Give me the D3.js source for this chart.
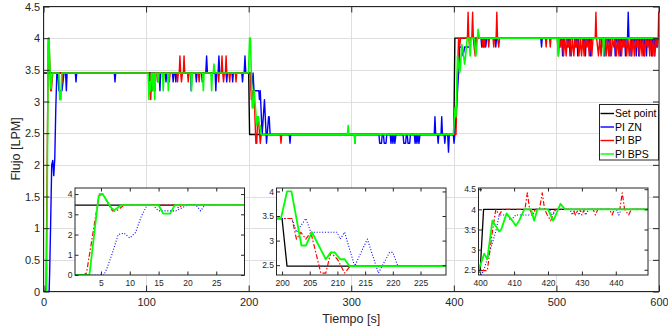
<!DOCTYPE html>
<html>
<head>
<meta charset="utf-8">
<script src="https://cdn.jsdelivr.net/npm/d3@7"></script>
<style>
  body { margin: 0; background: #fff; }
  svg { display: block; font-family: "Liberation Sans", Arial, Helvetica, sans-serif; }
  .tick text { fill: #262626; }
</style>
</head>
<body>
<svg id="chart" width="668" height="331"></svg>
<script>
// ---- data: [time s, flow LPM] vertices ----
var setPoint = [[0,3.45],[200,3.45],[200.9,2.48],[400,2.48],[401,4.0],[600,4.0]];

var piZN = [[0,0],[5.5,0],[6,0.3],[7,1.1],[8,2.0],[9,2.07],[10,1.83],[11,2.1],[12,2.9],[13,3.45],[14,3.45],[15,3.17],[18,3.17],[19,3.31],[20,3.45],[21.5,3.45],[22.3,3.17],[23,3.45],
  [31,3.45],[31.7,3.31],[32.4,3.45],[69,3.45],[69.7,3.31],[70.4,3.45],
  [103,3.45],[104,3.17],[105,3.45],[108,3.45],[108.7,3.17],[109.4,3.45],[112.8,3.45],[113.5,3.17],[114.2,3.45],[118.7,3.45],[119.4,3.31],[120.1,3.45],[125.7,3.45],[126.4,3.31],[127.1,3.45],[128.3,3.45],[129,3.31],[129.7,3.45],
  [143.3,3.45],[144,3.17],[144.7,3.45],[148.3,3.45],[149,3.31],[149.7,3.45],[154.1,3.45],[154.8,3.31],[155.5,3.45],[158.2,3.45],[159,3.72],[159.8,3.45],[167.3,3.45],[168,3.17],[168.7,3.45],[170.2,3.45],[171,3.72],[171.8,3.45],
  [177.9,3.45],[178.6,3.31],[179.3,3.45],[183.7,3.45],[184.4,3.31],[185.1,3.45],[193.3,3.45],[194,3.31],[194.7,3.45],[195.6,3.45],[196.4,3.72],[197.2,3.45],
  [201.8,3.45],[202.6,3.17],[204.3,3.45],[205.2,3.17],[209.9,3.17],[210.5,3.03],[211.3,3.17],[213.1,2.48],[215.4,3.03],[217.4,2.34],[219.4,2.76],[220,2.76],[220.9,2.48],
  [239.6,2.48],[240.3,2.34],[241,2.48],[327,2.48],[327.7,2.34],[329.5,2.34],[330.2,2.48],[331.4,2.48],[332.1,2.34],[333.9,2.34],[334.6,2.48],[338,2.48],[338.7,2.34],[339.8,2.48],[340.6,2.34],[341.7,2.48],[342.5,2.34],[343.6,2.48],
  [350.5,2.48],[351.2,2.34],[353,2.34],[353.7,2.48],[354.6,2.48],[355.3,2.34],[357,2.34],[357.7,2.48],[361.5,2.48],[362.2,2.34],[363.2,2.48],[364,2.34],[365,2.48],[366,2.34],[367,2.48],
  [380.9,2.48],[381.6,2.76],[382.3,2.48],[384,2.48],[384.7,2.34],[385.4,2.48],[387.5,2.48],[388.2,2.76],[388.9,2.48],[390.5,2.48],[391.2,2.34],[392,2.48],[394,2.48],[394.8,2.2],[395.6,2.48],
  [399.5,2.48],[400.2,2.34],[401,2.48],[403.6,3.17],[404.6,3.45],[405.6,3.86],[408,3.86],[409,3.72],[410.5,3.86],[415.4,3.86],[416.4,4.0],[420.5,4.0],[421,3.86],[422.5,4.0],
  [426.5,4.0],[427.2,3.86],[428,4.0],[428.5,4.0],[429.1,3.86],[430,4.0],[430.5,4.0],[431.1,3.86],[432,4.0],[440.2,4.0],[440.9,3.86],[441.6,4.0],[484.8,4.0],[485.5,3.86],[486.2,4.0],
  [502.6,4.0],[503.3,3.86],[504,4.0],[505.3,4.0],[506,3.72],[506.7,4.0],[510.1,4.0],[510.8,3.86],[511.5,4.0],[512.6,4.0],[513.3,3.72],[514,4.0],[517.6,4.0],[518.3,3.86],[519,4.0],[520.1,4.0],[520.8,3.72],[521.5,4.0],
  [525.1,4.0],[525.8,3.86],[526.5,4.0],[527.6,4.0],[528.3,3.72],[529,4.0],[530.3,4.0],[531,3.86],[531.7,4.0],[532.6,4.0],[533.3,3.72],[534,4.0],[543.6,4.0],[544.3,3.86],[545,4.0],[546.3,4.0],[547,3.72],[547.7,4.0],
  [549.1,4.0],[549.8,3.86],[550.5,4.0],[551.6,4.0],[552.3,3.72],[553,4.0],[556.6,4.0],[557.3,3.72],[558,4.0],[559.1,4.0],[559.8,3.86],[560.5,4.0],[561.6,4.0],[562.3,3.72],[563,4.0],[564.1,4.0],[564.8,3.86],[565.5,4.0],
  [566.6,4.0],[567.3,3.72],[568,4.0],[569.3,4.0],[570,4.41],[570.7,4.0],[572.1,4.0],[572.8,3.72],[573.5,4.0],[574.6,4.0],[575.3,3.86],[576,4.0],[577.1,4.0],[577.8,3.72],[578.5,4.0],[579.6,4.0],[580.3,3.72],[581,4.0],
  [582.1,4.0],[582.8,3.86],[583.5,4.0],[584.6,4.0],[585.3,3.72],[586,4.0],[587.1,4.0],[587.8,3.72],[588.5,4.0],[589.6,4.0],[590.3,3.86],[591,4.0],[592.1,4.0],[592.8,3.72],[593.5,4.0],[594.6,4.0],[595.3,3.72],[596,4.0],
  [597.1,4.0],[597.8,3.86],[598.5,4.0],[600,4.0]];

var piBP = [[0,0],[2,0],[2.5,0.1],[4.7,4.0],[5.3,4.0],[7,3.17],[7.7,3.17],[9,3.45],[18,3.45],[18.5,3.31],[19,3.45],
  [103.8,3.45],[104.5,3.03],[105.2,3.31],[106,3.17],[106.8,3.45],[110.5,3.45],[111.2,3.31],[111.9,3.45],[116,3.45],[116.7,3.31],[117.4,3.45],[122,3.45],[122.7,3.31],[123.4,3.45],[130,3.45],[130.7,3.31],[131.4,3.45],
  [132.3,3.45],[133,3.72],[133.7,3.45],[134.5,3.31],[135.5,3.45],[136.3,3.45],[137,3.72],[137.7,3.45],[140.4,3.45],[141.1,3.31],[141.8,3.45],[151,3.45],[151.7,3.31],[152.4,3.45],[170,3.45],[170.7,3.31],[171.4,3.45],
  [173.3,3.45],[174,3.72],[174.7,3.45],[175.5,3.31],[176.3,3.45],[177.3,3.45],[178,3.72],[178.7,3.45],[180.8,3.45],[181.5,3.31],[182.2,3.45],[187,3.45],[187.7,3.31],[188.4,3.45],
  [201.8,3.45],[202.6,3.03],[203.4,3.17],[204.3,3.03],[205.2,3.17],[207,2.34],[207.9,2.34],[208.8,2.76],[210,2.62],[211.3,2.34],[212.3,2.48],
  [230.8,2.48],[231.5,2.34],[232.2,2.48],[303,2.48],[303.6,2.34],[304.2,2.48],
  [402.1,2.48],[403.6,3.45],[404.6,4.0],[405.6,3.86],[406.6,4.0],[413.2,4.0],[413.9,4.41],[414.6,4.0],[415.4,3.86],[416.2,4.0],[417.5,4.0],[418.3,4.41],[419,4.0],[419.8,3.86],[420.8,3.72],[422.2,4.0],
  [427.4,4.0],[428.1,3.86],[428.8,4.0],[429.3,4.0],[430,3.86],[430.7,4.0],[433.3,4.0],[434,3.86],[434.7,4.0],[438.2,4.0],[438.9,3.86],[439.6,4.0],[441.2,4.0],[441.9,4.41],[442.6,4.0],[443.8,3.86],[444.6,4.0],
  [489.3,4.0],[490,3.86],[490.7,4.0],[493.3,4.0],[494,3.86],[494.7,4.0],
  [500.8,4.0],[502,3.72],[503.2,4.0],[504.5,3.86],[505.7,4.0],[507,3.72],[508.2,4.0],[509.5,3.72],[510.7,4.0],[512,3.86],[513.2,4.0],[514.5,3.72],[515.7,4.0],[517,3.72],[518.2,4.0],[519.5,3.86],[520.7,4.0],
  [522,3.72],[523.2,4.0],[524.5,3.72],[525.7,4.0],[527,3.72],[528.2,4.0],[529.5,3.86],[530.7,4.0],[532,3.72],[533.2,4.0],[534.5,3.72],[535.7,4.0],[537.8,4.0],[538.5,4.41],[539.2,4.0],
  [541,3.72],[542.2,4.0],[543.5,3.72],[544.7,4.0],[546,3.86],[547.2,4.0],[548.5,3.72],[549.7,4.0],[551,3.72],[552.2,4.0],[553.5,3.72],[554.7,4.0],[556,3.86],[557.2,4.0],[558.5,3.72],[559.7,4.0],
  [561,3.72],[562.2,4.0],[563.5,3.72],[564.7,4.0],[566,3.86],[567.2,4.0],[568.5,3.72],[569.7,4.0],[571,3.72],[572.2,4.0],[573.5,3.72],[574.7,4.0],[576,3.72],[577.2,4.0],[578.5,3.86],[579.7,4.0],
  [581,3.72],[582.2,4.0],[583.5,3.72],[584.7,4.0],[586,3.72],[587.2,4.0],[588.5,3.86],[589.7,4.0],[591,3.72],[592.2,4.0],[593.5,3.72],[594.7,4.0],[596,3.72],[597.2,4.0],[598.5,3.86],[599.2,4.0],[599.7,4.41],[600,4.0]];

var piBPS = [[0,0],[3,0],[4.6,3.9],[5.3,4.0],[6.8,3.31],[7.3,3.2],[8.5,3.45],[15,3.45],[15.8,3.03],[17,3.03],[17.8,3.45],
  [102,3.45],[102.8,3.03],[103.6,3.31],[104.4,3.17],[105.2,3.45],[106,3.45],[106.8,3.17],[107.6,3.45],[108.4,3.03],[109.2,3.45],[111.2,3.45],[111.9,3.31],[112.6,3.45],[116,3.45],[116.7,3.17],[117.4,3.45],[121,3.45],[121.7,3.17],[122.4,3.45],
  [143.6,3.45],[144.3,3.17],[145,3.45],[155.1,3.45],[155.8,3.17],[156.5,3.45],[163.2,3.45],[163.9,3.17],[164.6,3.45],[165.5,3.45],[166.2,3.59],[166.9,3.45],
  [199.8,3.45],[200.9,4.0],[201.7,4.0],[203.5,2.9],[204.3,2.9],[205.4,3.17],[207.9,2.62],[208.8,2.76],[209.5,2.76],[210.5,2.62],[211.3,2.62],[212.2,2.48],
  [296.3,2.48],[297,2.62],[297.7,2.48],[303,2.48],[303.6,2.34],[304.2,2.48],
  [399.5,2.48],[401.2,2.9],[402.1,2.76],[403.6,3.72],[405.6,3.45],[406.2,3.5],[407.8,3.9],[409.5,3.72],[410.5,3.59],[411.5,3.72],[413,4.0],[415,4.0],[415.9,3.72],[416.9,4.0],[420,4.0],[421.5,3.72],[422.3,3.86],[423.7,4.14],[425,4.0],
  [501,4.0],[501.8,3.72],[502.5,4.0],[545.3,4.0],[546,3.72],[546.7,4.0],[600,4.0]];

var seriesNames = ["Set point", "PI ZN", "PI BP", "PI BPS"];
var seriesData = [setPoint, piZN, piBP, piBPS];
var seriesColors = ["#000000", "#0000ff", "#ff0000", "#00ff00"];

var mainXTicks = [0, 100, 200, 300, 400, 500, 600];
var mainYTicks = [0, 0.5, 1, 1.5, 2, 2.5, 3, 3.5, 4, 4.5];

var insetXDomains = [[0.5, 29.9], [199, 229.6], [399.5, 449.5]];
var insetYDomains = [[0, 4.3], [2.3, 4.07], [2.37, 4.53]];
var insetXTicks = [[5, 10, 15, 20, 25], [200, 205, 210, 215, 220, 225], [400, 410, 420, 430, 440]];
var insetYTicks = [[0, 1, 2, 3, 4], [2.5, 3, 3.5, 4], [2.5, 3, 3.5, 4, 4.5]];

// ---- drawing ----
var svg = d3.select("#chart");
var axisColor = "#262626";
var plot = { left: 43.5, right: 659, top: 6.5, bottom: 291.5 };

var x = d3.scaleLinear().domain([0, 600]).range([plot.left, plot.right]);
var y = d3.scaleLinear().domain([0, 4.5]).range([plot.bottom, plot.top]);

var defs = svg.append("defs");
defs.append("clipPath").attr("id", "clipMain").append("rect")
  .attr("x", plot.left).attr("y", plot.top)
  .attr("width", plot.right - plot.left).attr("height", plot.bottom - plot.top);

// grid
var grid = svg.append("g");
grid.selectAll(".gx").data(mainXTicks).enter().append("line")
  .attr("x1", function (d) { return Math.round(x(d)) + 0.5; })
  .attr("x2", function (d) { return Math.round(x(d)) + 0.5; })
  .attr("y1", plot.top).attr("y2", plot.bottom)
  .attr("stroke", "#dfdfdf");
grid.selectAll(".gy").data(mainYTicks).enter().append("line")
  .attr("x1", plot.left).attr("x2", plot.right)
  .attr("y1", function (d) { return Math.round(y(d)) + 0.5; })
  .attr("y2", function (d) { return Math.round(y(d)) + 0.5; })
  .attr("stroke", "#dfdfdf");

// series
var line = d3.line()
  .x(function (d) { return x(d[0]); })
  .y(function (d) { return y(d[1]); });

var mainLines = svg.append("g").attr("clip-path", "url(#clipMain)");
seriesData.forEach(function (s, i) {
  mainLines.append("path")
    .attr("d", line(s))
    .attr("fill", "none")
    .attr("stroke", seriesColors[i])
    .attr("stroke-width", i == 3 ? 1.6 : 1.4)
    .attr("stroke-linejoin", "round");
});

function drawAxes(g, xs, ys, xt, yt, tickLen, fontSize, fmt) {
  var r = xs.range(), d = ys.range();
  g.append("g").attr("transform", "translate(0," + d[0] + ")")
    .call(d3.axisBottom(xs).tickValues(xt).tickSize(-tickLen).tickPadding(fontSize * 0.62).tickFormat(fmt))
    .call(function (a) { a.select(".domain").remove(); });
  g.append("g").attr("transform", "translate(0," + d[1] + ")")
    .call(d3.axisTop(xs).tickValues(xt).tickSize(-tickLen).tickFormat(""))
    .call(function (a) { a.select(".domain").remove(); });
  g.append("g").attr("transform", "translate(" + r[0] + ",0)")
    .call(d3.axisLeft(ys).tickValues(yt).tickSize(-tickLen).tickPadding(fontSize * 0.3).tickFormat(fmt))
    .call(function (a) { a.select(".domain").remove(); });
  g.append("g").attr("transform", "translate(" + r[1] + ",0)")
    .call(d3.axisRight(ys).tickValues(yt).tickSize(-tickLen).tickFormat(""))
    .call(function (a) { a.select(".domain").remove(); });
  g.selectAll(".tick line").attr("stroke", axisColor);
  g.selectAll(".tick text").attr("font-size", fontSize).attr("font-family", "Liberation Sans, Arial, sans-serif");
  g.append("rect")
    .attr("x", r[0]).attr("y", d[1])
    .attr("width", r[1] - r[0]).attr("height", d[0] - d[1])
    .attr("fill", "none").attr("stroke", axisColor).attr("stroke-width", 1);
}

var fmt = function (d) { return String(d); };
drawAxes(svg.append("g"), x, y, mainXTicks, mainYTicks, 6, 11, fmt);

// axis titles
svg.append("text")
  .attr("x", (plot.left + plot.right) / 2).attr("y", 323)
  .attr("text-anchor", "middle").attr("font-size", 12.5).attr("fill", axisColor)
  .text("Tiempo [s]");
svg.append("text")
  .attr("transform", "translate(20," + ((plot.top + plot.bottom) / 2) + ") rotate(-90)")
  .attr("text-anchor", "middle").attr("font-size", 12.5).attr("fill", axisColor)
  .text("Flujo [LPM]");

// legend
var leg = svg.append("g");
leg.append("rect").attr("x", 599.5).attr("y", 104.5).attr("width", 59).attr("height", 55.5)
  .attr("fill", "#fff").attr("stroke", axisColor);
seriesNames.forEach(function (n, i) {
  var ly = 113.5 + i * 13.5;
  leg.append("line").attr("x1", 600.5).attr("x2", 614).attr("y1", ly).attr("y2", ly)
    .attr("stroke", seriesColors[i]).attr("stroke-width", 1.4);
  leg.append("text").attr("x", 615).attr("y", ly).attr("dy", "0.35em")
    .attr("font-size", 10.5).attr("fill", "#000").text(n);
});

// insets
var insetBoxes = [[75, 244.5], [276.5, 446], [478.5, 648]];
var insetTop = 188, insetBottom = 275;
var insetStyles = [
  { dash: null, width: 1.3 },
  { dash: "1,1.8", width: 1.1 },
  { dash: "5,2,1.5,2", width: 1.2 },
  { dash: null, width: 1.8 }
];

insetBoxes.forEach(function (b, k) {
  var g = svg.append("g");
  var xs = d3.scaleLinear().domain(insetXDomains[k]).range(b);
  var ys = d3.scaleLinear().domain(insetYDomains[k]).range([insetBottom, insetTop]);
  defs.append("clipPath").attr("id", "clipInset" + k).append("rect")
    .attr("x", b[0]).attr("y", insetTop).attr("width", b[1] - b[0]).attr("height", insetBottom - insetTop);
  g.append("rect").attr("x", b[0]).attr("y", insetTop)
    .attr("width", b[1] - b[0]).attr("height", insetBottom - insetTop).attr("fill", "#fff");
  var il = d3.line().x(function (d) { return xs(d[0]); }).y(function (d) { return ys(d[1]); });
  var lg = g.append("g").attr("clip-path", "url(#clipInset" + k + ")");
  seriesData.forEach(function (s, i) {
    lg.append("path").attr("d", il(s))
      .attr("fill", "none").attr("stroke", seriesColors[i])
      .attr("stroke-width", insetStyles[i].width)
      .attr("stroke-dasharray", insetStyles[i].dash)
      .attr("stroke-linejoin", "round");
  });
  drawAxes(g, xs, ys, insetXTicks[k], insetYTicks[k], 3.5, 8.5, fmt);
});
</script>
</body>
</html>
